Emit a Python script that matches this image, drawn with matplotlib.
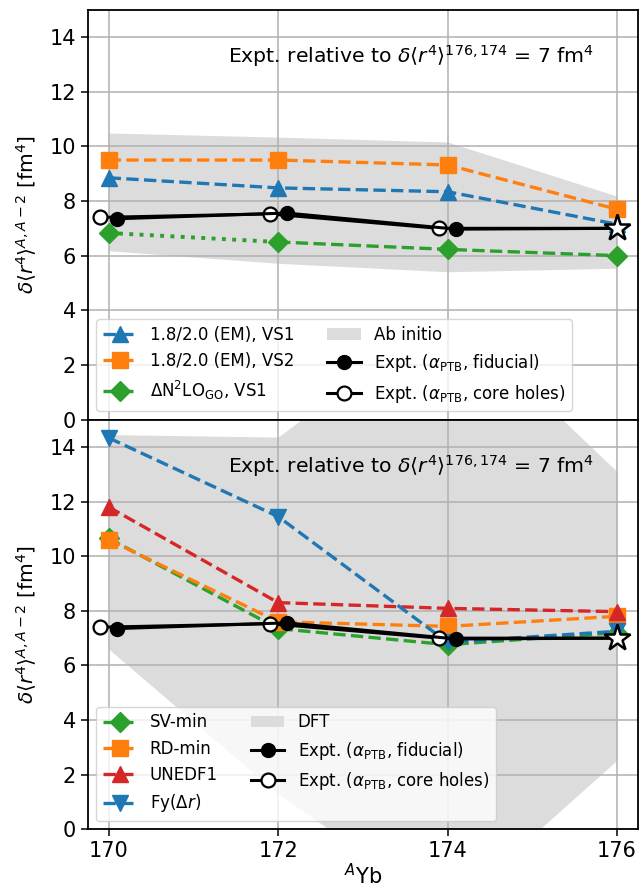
import matplotlib
matplotlib.use("Agg")
import matplotlib.pyplot as plt

# mass numbers of the Yb isotopes
A = [170, 172, 174, 176]

# top panel: ab initio (VS-IMSRG) results
vs1_em = [8.85, 8.48, 8.34, 7.15]
vs2_em = [9.50, 9.50, 9.32, 7.70]
dn2lo_vs1 = [6.83, 6.50, 6.23, 6.00]
abinitio_lo = [6.18, 5.72, 5.41, 5.54]
abinitio_hi = [10.49, 10.34, 10.16, 8.18]

# bottom panel: DFT results
sv_min = [10.65, 7.35, 6.76, 7.20]
rd_min = [10.60, 7.60, 7.43, 7.80]
unedf1 = [11.80, 8.30, 8.09, 7.97]
fy_dr = [14.33, 11.45, 6.85, 7.25]
dft_lo = [6.60, 1.30, -3.0, 2.53]
dft_hi = [14.45, 14.36, 19.0, 13.10]

# experiment, shifted slightly in A so both sets are visible
A_fid = [170.1, 172.1, 174.1, 176]
expt_fid = [7.35, 7.56, 6.97, 7.0]
A_core = [169.9, 171.9, 173.9, 176]
expt_core = [7.40, 7.53, 7.00, 7.0]
ref_A, ref_val = 176, 7.0

band_color = "#dcdcdc"
ms = 11
lw = 2.4

fig, (ax1, ax2) = plt.subplots(2, 1, figsize=(6.42, 8.88), dpi=100, sharex=True)
fig.subplots_adjust(left=0.137, right=0.994, top=0.989, bottom=0.066, hspace=0)


def draw_expt(ax):
    h_fid, = ax.plot(A_fid, expt_fid, "-o", color="k", mfc="k", mec="k", ms=10,
                     lw=2.2, markevery=[0, 1, 2], zorder=5,
                     label=r"Expt. ($\alpha_{\rm PTB}$, fiducial)")
    h_core, = ax.plot(A_core, expt_core, "-o", color="k", mfc="white", mec="k", ms=10,
                      mew=1.6, lw=2.2, markevery=[0, 1, 2], zorder=4,
                      label=r"Expt. ($\alpha_{\rm PTB}$, core holes)")
    ax.plot([ref_A], [ref_val], "*", ms=20, mfc="white", mec="k", mew=1.8, zorder=6)
    return h_fid, h_core


def finish(ax):
    ax.set_ylim(0, 15)
    ax.set_yticks([0, 2, 4, 6, 8, 10, 12, 14])
    ax.grid(True, color="#b0b0b0", lw=1.1)
    ax.tick_params(labelsize=15, width=1.1, length=5)
    for s in ax.spines.values():
        s.set_linewidth(1.3)
    ax.set_ylabel(r"$\delta\langle r^4\rangle^{A,A-2}$ [fm$^4$]", fontsize=14.5, labelpad=8)
    ax.text(0.92, 0.871, r"Expt. relative to $\delta\langle r^4\rangle^{176,174}$ = 7 fm$^4$",
            transform=ax.transAxes, ha="right", va="baseline", fontsize=14.7)


# top panel
band1 = ax1.fill_between(A, abinitio_lo, abinitio_hi, color=band_color, lw=0,
                         label="Ab initio")
h1, = ax1.plot(A, vs1_em, "--^", color="C0", ms=ms, lw=lw, label="1.8/2.0 (EM), VS1")
h2, = ax1.plot(A, vs2_em, "--s", color="C1", ms=ms, lw=lw, label="1.8/2.0 (EM), VS2")
# first segment dotted, the rest dashed
ax1.plot(A[:2], dn2lo_vs1[:2], ":", color="C2", lw=lw + 0.4)
ax1.plot(A[1:], dn2lo_vs1[1:], "--", color="C2", lw=lw)
h3, = ax1.plot(A, dn2lo_vs1, "D", color="C2", ms=ms - 0.5,
               label=r"$\Delta$N$^2$LO$_{\rm GO}$, VS1")
hf, hc = draw_expt(ax1)
finish(ax1)
top_handles = [h1, h2, h3, band1, hf, hc]
leg1 = ax1.legend(top_handles, [h.get_label() for h in top_handles],
                  loc="lower left", ncol=2, fontsize=12)
leg1.legend_handles[2].set_linestyle("--")
leg1.legend_handles[2].set_linewidth(lw)

# bottom panel
band2 = ax2.fill_between(A, dft_lo, dft_hi, color=band_color, lw=0, label="DFT")
g1, = ax2.plot(A, sv_min, "--D", color="C2", ms=ms - 0.5, lw=lw, label="SV-min")
g2, = ax2.plot(A, rd_min, "--s", color="C1", ms=ms, lw=lw, label="RD-min")
g3, = ax2.plot(A, unedf1, "--^", color="C3", ms=ms, lw=lw, label="UNEDF1")
g4, = ax2.plot(A, fy_dr, "--v", color="C0", ms=ms, lw=lw, label=r"Fy($\Delta r$)")
hf2, hc2 = draw_expt(ax2)
finish(ax2)
bottom_handles = [g1, g2, g3, g4, band2, hf2, hc2]
ax2.legend(bottom_handles, [h.get_label() for h in bottom_handles],
           loc="lower left", ncol=2, fontsize=12)

ax2.set_xlim(169.755, 176.25)
ax2.set_xticks(A)
ax2.set_xlabel(r"$^A$Yb", fontsize=15, labelpad=1)
ax1.tick_params(labelbottom=False)

fig.savefig("out.png", dpi=100)
